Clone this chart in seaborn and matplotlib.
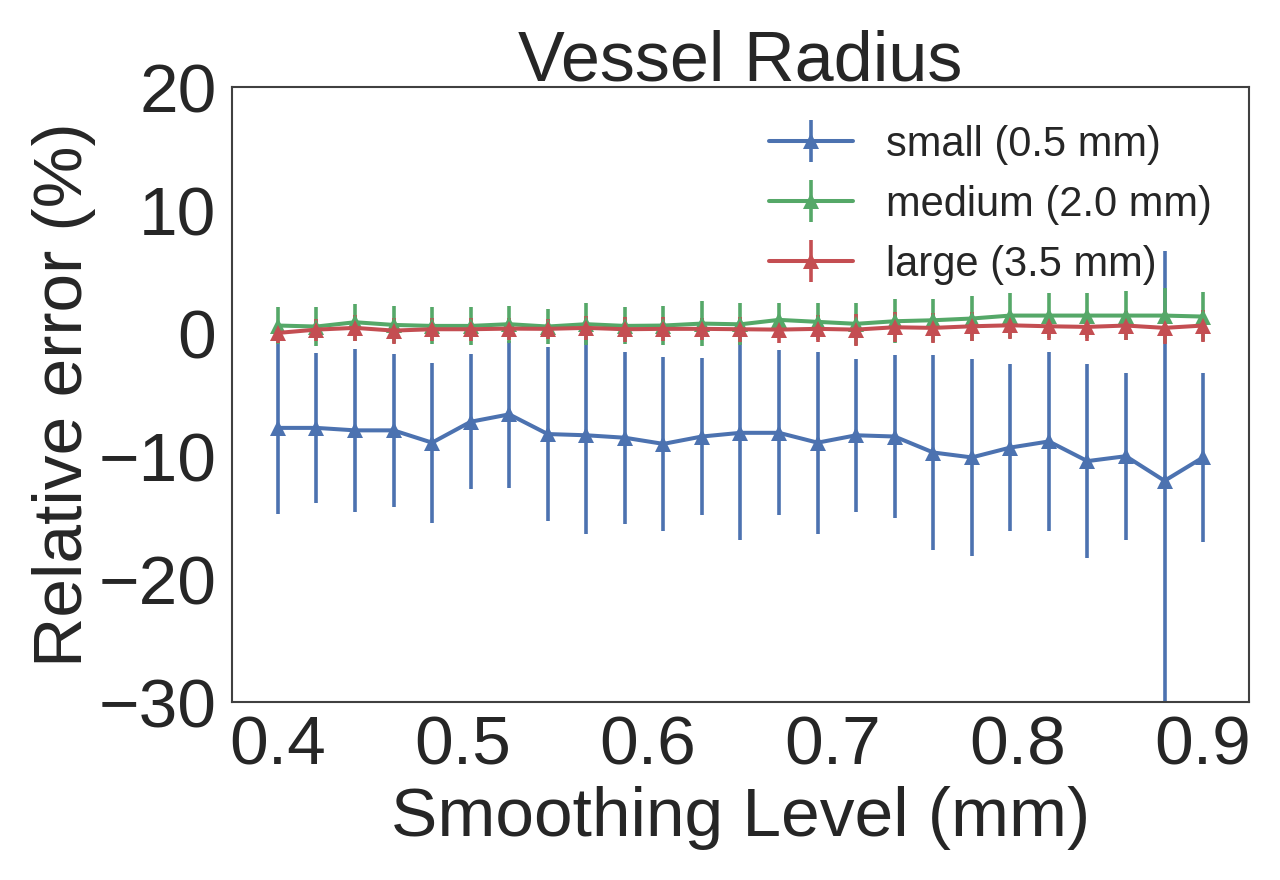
import matplotlib
matplotlib.use("Agg")
import matplotlib.pyplot as plt
import seaborn as sns

# smoothing levels (mm)
smoothing = [0.4, 0.4208, 0.4417, 0.4625, 0.4833, 0.5042, 0.525, 0.5458, 0.5667,
             0.5875, 0.6083, 0.6292, 0.65, 0.6708, 0.6917, 0.7125, 0.7333, 0.7542,
             0.775, 0.7958, 0.8167, 0.8375, 0.8583, 0.8792, 0.9]

small_mean = [-7.7, -7.7, -7.9, -7.9, -8.9, -7.2, -6.6, -8.2, -8.3, -8.5, -9.0, -8.4, -8.1,
              -8.1, -8.9, -8.3, -8.4, -9.7, -10.1, -9.3, -8.8, -10.4, -10.0, -12.0, -10.1]
small_err = [7.0, 6.1, 6.6, 6.2, 6.5, 5.5, 6.0, 7.1, 8.0, 7.0, 7.1, 6.4, 8.7,
             6.7, 7.4, 6.2, 6.6, 7.9, 8.0, 6.8, 7.3, 7.9, 6.8, 18.7, 6.9]

medium_mean = [0.62, 0.54, 0.89, 0.67, 0.59, 0.59, 0.73, 0.54, 0.73, 0.59, 0.62, 0.78, 0.72,
               1.08, 0.92, 0.76, 0.97, 1.05, 1.19, 1.43, 1.43, 1.43, 1.43, 1.43, 1.35]
medium_err = [1.5, 1.6, 1.5, 1.5, 1.5, 1.55, 1.5, 1.45, 1.7, 1.5, 1.6, 1.8, 1.7,
              1.4, 1.5, 1.7, 1.8, 1.75, 1.85, 1.8, 1.8, 1.85, 2.0, 2.25, 2.0]

large_mean = [0.02, 0.29, 0.43, 0.21, 0.32, 0.32, 0.37, 0.35, 0.43, 0.32, 0.35, 0.35, 0.32,
              0.29, 0.35, 0.29, 0.48, 0.43, 0.56, 0.64, 0.56, 0.51, 0.62, 0.43, 0.62]
large_err = [0.8, 0.9, 1.05, 1.05, 0.95, 0.95, 0.9, 0.8, 1.0, 1.0, 0.95, 0.9, 1.0,
             1.1, 1.1, 1.3, 1.2, 1.2, 1.2, 1.1, 1.1, 1.15, 1.2, 1.35, 1.3]

labels = ["small (0.5 mm)", "medium (2.0 mm)", "large (3.5 mm)"]
x_ticks = [0.4, 0.5, 0.6, 0.7, 0.8, 0.9]
y_ticks = [-30, -20, -10, 0, 10, 20]

sns.set_theme(style="white")
plt.rcParams['font.family'] = ['Liberation Sans', 'DejaVu Sans']
plt.rcParams['axes.unicode_minus'] = True

deep = sns.color_palette("deep")
colors = [deep[0], deep[2], deep[3]]

fig = plt.figure(figsize=(12.8, 8.8), dpi=100)
ax = fig.add_axes([0.181, 0.202, 0.795, 0.699])

series = [(small_mean, small_err), (medium_mean, medium_err), (large_mean, large_err)]
for (m, e), lab, c in zip(series, labels, colors):
    ax.errorbar(smoothing, m, yerr=e, fmt='-^', color=c, lw=2.9, elinewidth=2.6,
                ms=12, mew=0, capsize=0, label=lab)

ax.set_xlim(0.375, 0.925)
ax.set_ylim(-30, 20)
ax.set_xticks(x_ticks)
ax.set_yticks(y_ticks)
ax.set_xticklabels([f"{t:.1f}" for t in x_ticks])
ax.tick_params(axis='both', labelsize=50, length=0, colors='.15')
ax.tick_params(axis='y', pad=11)
ax.tick_params(axis='x', pad=9)
for s in ax.spines.values():
    s.set_color('.25')
    s.set_linewidth(1.5)

ax.set_title("Vessel Radius", fontsize=50.5, color='.15', pad=5)
ax.set_xlabel("Smoothing Level (mm)", fontsize=50, color='.15', labelpad=5)
ax.set_ylabel("Relative error (%)", fontsize=50, color='.15', labelpad=2)

ax.legend(loc='upper right', frameon=False, fontsize=30, labelspacing=0.48)

fig.savefig("out.png", dpi=100)
